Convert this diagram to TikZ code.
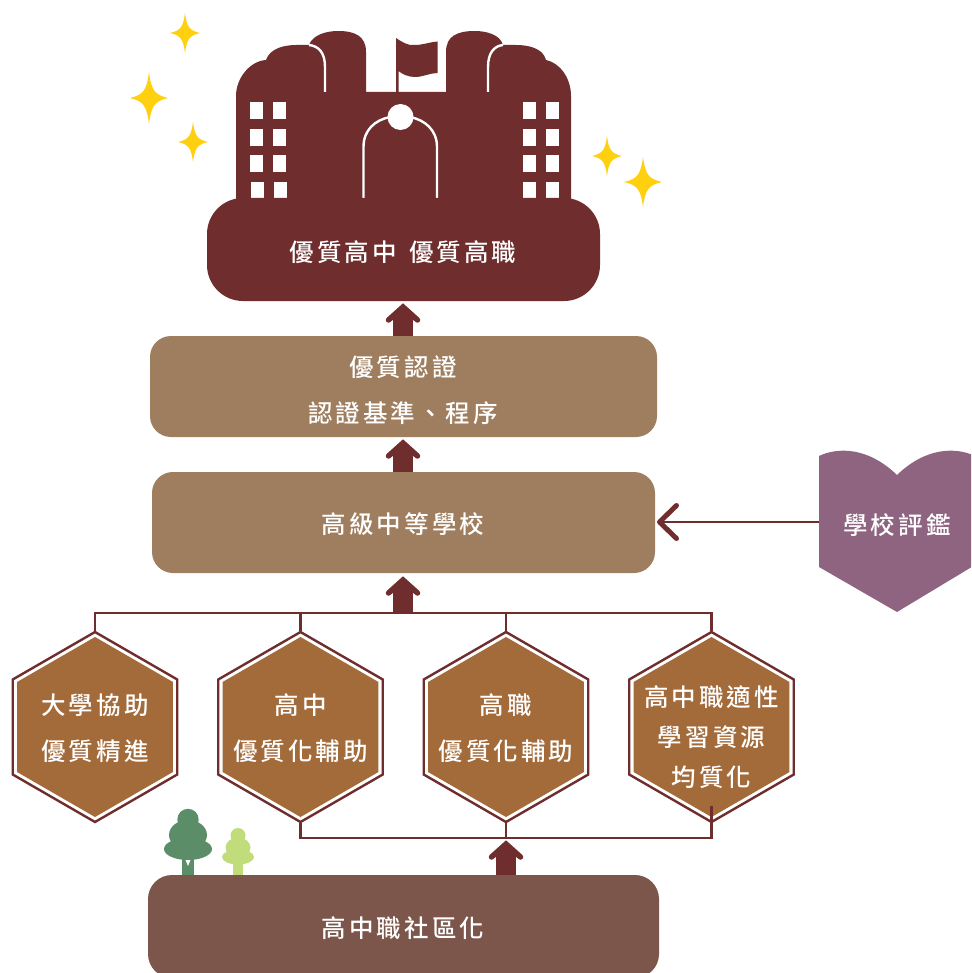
\documentclass[tikz,border=0pt]{standalone}
\usepackage{fontspec}
\newfontfamily\cjk[LetterSpace=12.5,UprightFont=* Medium]{Noto Sans CJK TC}
\usetikzlibrary{shapes.geometric,arrows.meta,calc}
\definecolor{wine}{HTML}{6F2E2D}
\definecolor{tan}{HTML}{9E7E5F}
\definecolor{ochre}{HTML}{A36A3A}
\definecolor{umber}{HTML}{7C564B}
\definecolor{mauve}{HTML}{8E6480}
\definecolor{spark}{HTML}{FFD010}
\definecolor{treedark}{HTML}{5B8D68}
\definecolor{treelight}{HTML}{C0DC7B}
\tikzset{
  lbl/.style={text=white,font=\cjk\fontsize{24.5}{46}\selectfont,align=center,inner sep=0pt},
  panel/.style={fill=#1,rounded corners=21pt,minimum width=503pt,minimum height=101pt,inner sep=0pt},
  hexout/.style={regular polygon,regular polygon sides=6,shape border rotate=30,draw=wine,line width=2.4pt,minimum size=190pt,inner sep=0pt},
  hexin/.style={regular polygon,regular polygon sides=6,shape border rotate=30,fill=ochre,minimum size=180pt,inner sep=0pt},
  wire/.style={draw=wine,line width=2.4pt},
  shaft/.style={draw=wine,line width=19.5pt},
  chev/.style={draw=wine,fill=wine,line width=5.5pt,line cap=round,miter limit=10},
  spk/.style={fill=spark},
  glass/.style={fill=white},
  wline/.style={draw=white,line width=2.4pt}
}
\newcommand{\sparkle}[4]{\fill[spk] (#1,#2-#4) .. controls (#1+.12*#3,#2-.3*#4) and (#1+.3*#3,#2-.12*#4) .. (#1+#3,#2) .. controls (#1+.3*#3,#2+.12*#4) and (#1+.12*#3,#2+.3*#4) .. (#1,#2+#4) .. controls (#1-.12*#3,#2+.3*#4) and (#1-.3*#3,#2+.12*#4) .. (#1-#3,#2) .. controls (#1-.3*#3,#2-.12*#4) and (#1-.12*#3,#2-.3*#4) .. cycle;}
\newcommand{\chevron}[1]{\draw[chev] ($(#1)+(-14.5,13)$) -- (#1) -- ($(#1)+(14.5,13)$);}
\begin{document}
\begin{tikzpicture}[x=1pt,y=-1pt]
\useasboundingbox (0,0) rectangle (971,973);
\clip (0,0) rectangle (971,973);
\fill[white] (0,0) rectangle (971,973);

% sparkles
\sparkle{185}{33}{15}{20}
\sparkle{149}{98}{19}{26}
\sparkle{193}{142}{15}{20}
\sparkle{607}{156}{15}{20}
\sparkle{643}{182}{19}{25}

% building silhouette with flag
\fill[wine] (236,200) -- (236,96) .. controls (236,78) and (250,61) .. (266,60)
  .. controls (270,48) and (285,45) .. (296,45) -- (309,45)
  .. controls (313,34) and (328,31) .. (338,31) .. controls (355,31) and (366,36) .. (366,52)
  -- (366,92) -- (396,92) -- (396,38)
  .. controls (402,42) and (408,46) .. (415,45) .. controls (423,45) and (430,42) .. (437.5,41.5)
  -- (437.5,73) .. controls (430,73) and (423,77) .. (415,77) .. controls (408,77) and (402,74) .. (398.5,71)
  -- (398.5,92) -- (446,92) -- (446,52)
  .. controls (446,36) and (457,31) .. (475,31) .. controls (485,31) and (500,34) .. (503,45)
  -- (516,45) .. controls (528,45) and (543,48) .. (546,60)
  .. controls (560,63) and (571,78) .. (571,96) -- (571,200) -- cycle;
% building lines
\draw[wline] (309,45) .. controls (319,46) and (325,53) .. (325,67) -- (325,92);
\draw[wline] (503,45) .. controls (494,46) and (488,53) .. (488,67) -- (488,92);
\draw[wline] (363.5,198) -- (363.5,147) .. controls (363.5,130) and (375,120) .. (390,117);
\draw[wline] (437,198) -- (437,147) .. controls (437,130) and (425,120) .. (410,117);
\fill[white] (400.5,117) circle (13);
% windows
\foreach \r in {102,129,155}{
  \foreach \c in {250,273,523,546}{\fill[glass] (\c,\r) rectangle ++(13,17);}
}
\foreach \c in {251,274,523,546}{\fill[glass] (\c,182) rectangle ++(13,16);}

% panels
\node[panel=wine,rounded corners=36pt,minimum width=393pt,minimum height=103pt] (top) at (403.5,249.5) {};
\node[lbl] (toptxt) at (403,252) {優質高中\hspace{4pt} 優質高職};
\node[panel=tan,minimum width=507pt] (cert) at (403.5,386.5) {};
\node[lbl] (certtxt) at (403,390) {優質認證\\認證基準、程序};
\node[panel=tan] (school) at (403.5,522.5) {};
\node[lbl] (schooltxt) at (403,524) {高級中等學校};
\node[panel=umber,rounded corners=24pt,minimum width=511pt,minimum height=103pt] (comm) at (403.5,926.5) {};
\node[lbl] (commtxt) at (403,928) {高中職社區化};

% heart
\fill[mauve] (819,456) .. controls (838,447) and (868,447) .. (897,475)
  .. controls (926,447) and (956,447) .. (975,456) -- (975,565) -- (897,612) -- (819,567) -- cycle;
\node[lbl] (heart) at (897,525) {學校評鑑};
\coordinate (heartw) at (819,522);
\coordinate (schoolr) at (657,522);
\draw[wire,-{Straight Barb[length=17pt,width=33pt,line width=5pt,round]}] (heartw) -- (schoolr);

% hexagons
\foreach \n/\x in {a/95,b/300.5,c/506,d/711.5}{
  \node[hexout] (o\n) at (\x,727) {};
  \node[hexin] (i\n) at (\x,727) {};
}
\node[lbl] (ta) at (95,728) {大學協助\\優質精進};
\node[lbl] (tb) at (300.5,728) {高中\\優質化輔助};
\node[lbl] (tc) at (506,728) {高職\\優質化輔助};
\node[lbl,font=\cjk\fontsize{24.5}{40}\selectfont] (td) at (711.5,737) {高中職適性\\學習資源\\均質化};

% upper bus
\coordinate (busul) at (95,613);
\coordinate (busur) at (711.5,613);
\draw[wire] (oa.north) -- (busul) -- (busur) -- (od.north);
\draw[wire] (ob.north) -- (ob.north |- busul);
\draw[wire] (oc.north) -- (oc.north |- busul);
% lower bus
\coordinate (busll) at (300.5,838);
\coordinate (buslr) at (711.5,838);
\coordinate (dstub) at (711.5,806);
\draw[wire] (ob.south) -- (busll) -- (buslr) -- (dstub);
\draw[wire] (oc.south) -- (oc.south |- busll);

% thick arrows
\coordinate (tip1) at (403,307);
\coordinate (tip2) at (403,443);
\coordinate (tip3) at (403,580);
\coordinate (tip4) at (506,844);
\draw[shaft] ($(cert.north)+(-.5,0)$) -- ($(tip1)+(0,10)$);
\chevron{tip1}
\draw[shaft] ($(school.north)+(-.5,0)$) -- ($(tip2)+(0,10)$);
\chevron{tip2}
\draw[shaft] (tip3 |- busul) -- ($(tip3)+(0,10)$);
\chevron{tip3}
\draw[shaft] (tip4 |- comm.north) -- ($(tip4)+(0,10)$);
\chevron{tip4}

% trees
\fill[treedark] (181.5,875) rectangle (194,855);
\fill[treedark] (188,819.5) circle (10.7);
\fill[treedark] (188,835) ellipse (19 and 15);
\fill[treedark] (188,849) ellipse (24 and 11);
\fill[white] (185.5,860) -- (190.5,860) -- (188,866) -- cycle;
\fill[treelight] (233,875) rectangle (243,858);
\fill[treelight] (238,835.5) circle (7.5);
\fill[treelight] (238,847.5) ellipse (12.5 and 10);
\fill[treelight] (238,857) ellipse (16 and 7.5);
\end{tikzpicture}
\end{document}
